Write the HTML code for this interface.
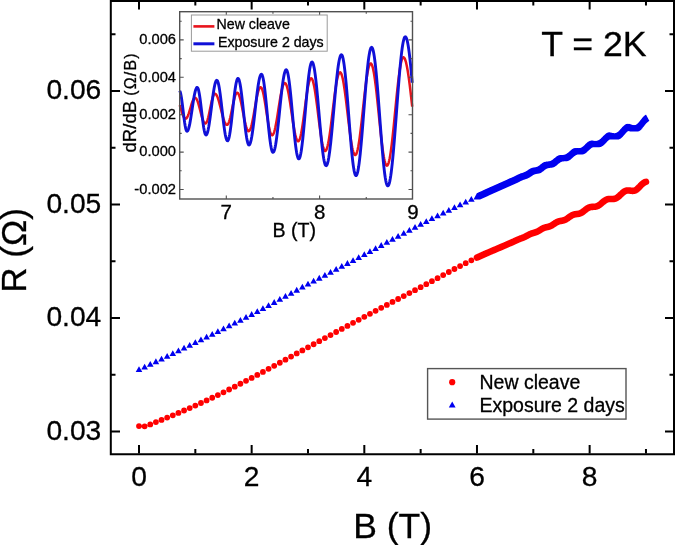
<!DOCTYPE html>
<html><head><meta charset="utf-8"><style>
html,body{margin:0;padding:0;background:#fff;}
body{width:675px;height:545px;overflow:hidden;}
svg{display:block;font-family:"Liberation Sans", sans-serif;filter:blur(0.35px);}
text{stroke:#000;stroke-width:0.3px;}
</style></head><body>
<svg width="675" height="545" viewBox="0 0 675 545">
<rect width="675" height="545" fill="#fff"/>
<!-- main data -->
<path d="M136.1 426.1a2.9 2.9 0 1 0 5.8 0a2.9 2.9 0 1 0 -5.8 0zM141.73 426.3a2.9 2.9 0 1 0 5.8 0a2.9 2.9 0 1 0 -5.8 0zM147.37 424.4a2.9 2.9 0 1 0 5.8 0a2.9 2.9 0 1 0 -5.8 0zM153 422.1a2.9 2.9 0 1 0 5.8 0a2.9 2.9 0 1 0 -5.8 0zM158.63 419.9a2.9 2.9 0 1 0 5.8 0a2.9 2.9 0 1 0 -5.8 0zM164.26 417.6a2.9 2.9 0 1 0 5.8 0a2.9 2.9 0 1 0 -5.8 0zM169.9 415.3a2.9 2.9 0 1 0 5.8 0a2.9 2.9 0 1 0 -5.8 0zM175.53 412.9a2.9 2.9 0 1 0 5.8 0a2.9 2.9 0 1 0 -5.8 0zM181.16 410.5a2.9 2.9 0 1 0 5.8 0a2.9 2.9 0 1 0 -5.8 0zM186.8 408.1a2.9 2.9 0 1 0 5.8 0a2.9 2.9 0 1 0 -5.8 0zM192.43 405.6a2.9 2.9 0 1 0 5.8 0a2.9 2.9 0 1 0 -5.8 0zM198.06 403.02a2.9 2.9 0 1 0 5.8 0a2.9 2.9 0 1 0 -5.8 0zM203.7 400.4a2.9 2.9 0 1 0 5.8 0a2.9 2.9 0 1 0 -5.8 0zM209.33 397.74a2.9 2.9 0 1 0 5.8 0a2.9 2.9 0 1 0 -5.8 0zM214.96 395.04a2.9 2.9 0 1 0 5.8 0a2.9 2.9 0 1 0 -5.8 0zM220.59 392.3a2.9 2.9 0 1 0 5.8 0a2.9 2.9 0 1 0 -5.8 0zM226.23 389.51a2.9 2.9 0 1 0 5.8 0a2.9 2.9 0 1 0 -5.8 0zM231.86 386.66a2.9 2.9 0 1 0 5.8 0a2.9 2.9 0 1 0 -5.8 0zM237.49 383.77a2.9 2.9 0 1 0 5.8 0a2.9 2.9 0 1 0 -5.8 0zM243.13 380.85a2.9 2.9 0 1 0 5.8 0a2.9 2.9 0 1 0 -5.8 0zM248.76 377.9a2.9 2.9 0 1 0 5.8 0a2.9 2.9 0 1 0 -5.8 0zM254.39 374.92a2.9 2.9 0 1 0 5.8 0a2.9 2.9 0 1 0 -5.8 0zM260.03 371.91a2.9 2.9 0 1 0 5.8 0a2.9 2.9 0 1 0 -5.8 0zM265.66 368.87a2.9 2.9 0 1 0 5.8 0a2.9 2.9 0 1 0 -5.8 0zM271.29 365.8a2.9 2.9 0 1 0 5.8 0a2.9 2.9 0 1 0 -5.8 0zM276.93 362.72a2.9 2.9 0 1 0 5.8 0a2.9 2.9 0 1 0 -5.8 0zM282.56 359.63a2.9 2.9 0 1 0 5.8 0a2.9 2.9 0 1 0 -5.8 0zM288.19 356.54a2.9 2.9 0 1 0 5.8 0a2.9 2.9 0 1 0 -5.8 0zM293.82 353.45a2.9 2.9 0 1 0 5.8 0a2.9 2.9 0 1 0 -5.8 0zM299.46 350.37a2.9 2.9 0 1 0 5.8 0a2.9 2.9 0 1 0 -5.8 0zM305.09 347.3a2.9 2.9 0 1 0 5.8 0a2.9 2.9 0 1 0 -5.8 0zM310.72 344.24a2.9 2.9 0 1 0 5.8 0a2.9 2.9 0 1 0 -5.8 0zM316.36 341.18a2.9 2.9 0 1 0 5.8 0a2.9 2.9 0 1 0 -5.8 0zM321.99 338.11a2.9 2.9 0 1 0 5.8 0a2.9 2.9 0 1 0 -5.8 0zM327.62 335.05a2.9 2.9 0 1 0 5.8 0a2.9 2.9 0 1 0 -5.8 0zM333.25 331.99a2.9 2.9 0 1 0 5.8 0a2.9 2.9 0 1 0 -5.8 0zM338.89 328.93a2.9 2.9 0 1 0 5.8 0a2.9 2.9 0 1 0 -5.8 0zM344.52 325.88a2.9 2.9 0 1 0 5.8 0a2.9 2.9 0 1 0 -5.8 0zM350.15 322.84a2.9 2.9 0 1 0 5.8 0a2.9 2.9 0 1 0 -5.8 0zM355.79 319.81a2.9 2.9 0 1 0 5.8 0a2.9 2.9 0 1 0 -5.8 0zM361.42 316.8a2.9 2.9 0 1 0 5.8 0a2.9 2.9 0 1 0 -5.8 0zM367.05 313.8a2.9 2.9 0 1 0 5.8 0a2.9 2.9 0 1 0 -5.8 0zM372.69 310.82a2.9 2.9 0 1 0 5.8 0a2.9 2.9 0 1 0 -5.8 0zM378.32 307.85a2.9 2.9 0 1 0 5.8 0a2.9 2.9 0 1 0 -5.8 0zM383.95 304.9a2.9 2.9 0 1 0 5.8 0a2.9 2.9 0 1 0 -5.8 0zM389.59 301.94a2.9 2.9 0 1 0 5.8 0a2.9 2.9 0 1 0 -5.8 0zM395.22 299a2.9 2.9 0 1 0 5.8 0a2.9 2.9 0 1 0 -5.8 0zM400.85 296.05a2.9 2.9 0 1 0 5.8 0a2.9 2.9 0 1 0 -5.8 0zM406.48 293.11a2.9 2.9 0 1 0 5.8 0a2.9 2.9 0 1 0 -5.8 0zM412.12 290.16a2.9 2.9 0 1 0 5.8 0a2.9 2.9 0 1 0 -5.8 0zM417.75 287.2a2.9 2.9 0 1 0 5.8 0a2.9 2.9 0 1 0 -5.8 0zM423.38 284.21a2.9 2.9 0 1 0 5.8 0a2.9 2.9 0 1 0 -5.8 0zM429.02 281.18a2.9 2.9 0 1 0 5.8 0a2.9 2.9 0 1 0 -5.8 0zM434.65 278.13a2.9 2.9 0 1 0 5.8 0a2.9 2.9 0 1 0 -5.8 0zM440.28 275.07a2.9 2.9 0 1 0 5.8 0a2.9 2.9 0 1 0 -5.8 0zM445.92 272.02a2.9 2.9 0 1 0 5.8 0a2.9 2.9 0 1 0 -5.8 0zM451.55 269.01a2.9 2.9 0 1 0 5.8 0a2.9 2.9 0 1 0 -5.8 0zM457.18 266.04a2.9 2.9 0 1 0 5.8 0a2.9 2.9 0 1 0 -5.8 0zM462.81 263.14a2.9 2.9 0 1 0 5.8 0a2.9 2.9 0 1 0 -5.8 0zM468.45 260.32a2.9 2.9 0 1 0 5.8 0a2.9 2.9 0 1 0 -5.8 0z" fill="#f00"/>
<polyline points="476.98,257.6 477.26,257.47 477.54,257.33 477.82,257.2 478.11,257.07 478.39,256.94 478.67,256.81 478.95,256.68 479.23,256.55 479.51,256.42 479.8,256.29 480.08,256.16 480.36,256.03 480.64,255.9 480.92,255.77 481.2,255.65 481.49,255.52 481.77,255.39 482.05,255.27 482.33,255.14 482.61,255.01 482.89,254.89 483.18,254.76 483.46,254.63 483.74,254.51 484.02,254.38 484.3,254.26 484.58,254.14 484.87,254.01 485.15,253.89 485.43,253.76 485.71,253.64 485.99,253.52 486.27,253.39 486.56,253.27 486.84,253.15 487.12,253.02 487.4,252.9 487.68,252.78 487.96,252.66 488.25,252.54 488.53,252.41 488.81,252.29 489.09,252.17 489.37,252.05 489.65,251.93 489.94,251.81 490.22,251.69 490.5,251.57 490.78,251.45 491.06,251.33 491.34,251.2 491.63,251.08 491.91,250.96 492.19,250.84 492.47,250.72 492.75,250.6 493.03,250.48 493.32,250.36 493.6,250.24 493.88,250.12 494.16,250 494.44,249.88 494.72,249.76 495.01,249.65 495.29,249.53 495.57,249.41 495.85,249.29 496.13,249.17 496.41,249.05 496.7,248.93 496.98,248.81 497.26,248.69 497.54,248.57 497.82,248.45 498.1,248.33 498.39,248.21 498.67,248.09 498.95,247.97 499.23,247.85 499.51,247.73 499.79,247.61 500.08,247.49 500.36,247.37 500.64,247.25 500.92,247.13 501.2,247.01 501.48,246.88 501.77,246.76 502.05,246.64 502.33,246.52 502.61,246.4 502.89,246.28 503.17,246.16 503.46,246.03 503.74,245.91 504.02,245.79 504.3,245.67 504.58,245.55 504.86,245.42 505.14,245.3 505.43,245.18 505.71,245.05 505.99,244.93 506.27,244.81 506.55,244.68 506.83,244.56 507.12,244.44 507.4,244.31 507.68,244.19 507.96,244.07 508.24,243.95 508.52,243.82 508.81,243.7 509.09,243.58 509.37,243.46 509.65,243.34 509.93,243.22 510.21,243.1 510.5,242.97 510.78,242.85 511.06,242.73 511.34,242.61 511.62,242.49 511.9,242.37 512.19,242.25 512.47,242.12 512.75,242 513.03,241.88 513.31,241.75 513.59,241.62 513.88,241.5 514.16,241.37 514.44,241.24 514.72,241.11 515,240.98 515.28,240.85 515.57,240.72 515.85,240.59 516.13,240.45 516.41,240.32 516.69,240.19 516.97,240.06 517.26,239.94 517.54,239.81 517.82,239.68 518.1,239.56 518.38,239.44 518.66,239.32 518.95,239.2 519.23,239.09 519.51,238.98 519.79,238.87 520.07,238.76 520.35,238.65 520.64,238.55 520.92,238.44 521.2,238.34 521.48,238.24 521.76,238.14 522.04,238.03 522.33,237.93 522.61,237.82 522.89,237.72 523.17,237.6 523.45,237.49 523.73,237.37 524.02,237.25 524.3,237.12 524.58,236.99 524.86,236.85 525.14,236.71 525.42,236.57 525.71,236.42 525.99,236.27 526.27,236.12 526.55,235.97 526.83,235.82 527.11,235.66 527.4,235.51 527.68,235.35 527.96,235.2 528.24,235.05 528.52,234.9 528.8,234.76 529.09,234.61 529.37,234.47 529.65,234.34 529.93,234.21 530.21,234.08 530.49,233.96 530.78,233.84 531.06,233.73 531.34,233.62 531.62,233.51 531.9,233.42 532.18,233.32 532.47,233.23 532.75,233.14 533.03,233.06 533.31,232.98 533.59,232.9 533.87,232.82 534.15,232.74 534.44,232.66 534.72,232.58 535,232.49 535.28,232.41 535.56,232.32 535.84,232.22 536.13,232.12 536.41,232.01 536.69,231.89 536.97,231.77 537.25,231.64 537.53,231.5 537.82,231.35 538.1,231.2 538.38,231.04 538.66,230.88 538.94,230.71 539.22,230.54 539.51,230.37 539.79,230.19 540.07,230.01 540.35,229.84 540.63,229.66 540.91,229.49 541.2,229.31 541.48,229.15 541.76,228.98 542.04,228.82 542.32,228.67 542.6,228.53 542.89,228.39 543.17,228.26 543.45,228.13 543.73,228.01 544.01,227.9 544.29,227.8 544.58,227.71 544.86,227.62 545.14,227.53 545.42,227.45 545.7,227.38 545.98,227.31 546.27,227.25 546.55,227.18 546.83,227.12 547.11,227.06 547.39,227 547.67,226.94 547.96,226.87 548.24,226.8 548.52,226.73 548.8,226.65 549.08,226.57 549.36,226.47 549.65,226.38 549.93,226.27 550.21,226.16 550.49,226.04 550.77,225.91 551.05,225.77 551.34,225.62 551.62,225.47 551.9,225.31 552.18,225.14 552.46,224.97 552.74,224.79 553.03,224.6 553.31,224.42 553.59,224.22 553.87,224.03 554.15,223.84 554.43,223.64 554.72,223.45 555,223.26 555.28,223.07 555.56,222.89 555.84,222.72 556.12,222.55 556.41,222.39 556.69,222.23 556.97,222.08 557.25,221.95 557.53,221.82 557.81,221.71 558.1,221.6 558.38,221.5 558.66,221.41 558.94,221.33 559.22,221.25 559.5,221.19 559.79,221.13 560.07,221.07 560.35,221.02 560.63,220.97 560.91,220.92 561.19,220.87 561.47,220.83 561.76,220.78 562.04,220.73 562.32,220.67 562.6,220.62 562.88,220.55 563.16,220.48 563.45,220.4 563.73,220.32 564.01,220.23 564.29,220.12 564.57,220.01 564.85,219.9 565.14,219.77 565.42,219.63 565.7,219.48 565.98,219.32 566.26,219.16 566.54,218.99 566.83,218.81 567.11,218.62 567.39,218.43 567.67,218.24 567.95,218.04 568.23,217.83 568.52,217.63 568.8,217.42 569.08,217.22 569.36,217.01 569.64,216.81 569.92,216.61 570.21,216.42 570.49,216.23 570.77,216.04 571.05,215.87 571.33,215.69 571.61,215.53 571.9,215.38 572.18,215.23 572.46,215.1 572.74,214.96 573.02,214.85 573.3,214.74 573.59,214.65 573.87,214.56 574.15,214.48 574.43,214.4 574.71,214.34 574.99,214.28 575.28,214.23 575.56,214.19 575.84,214.15 576.12,214.11 576.4,214.08 576.68,214.05 576.97,214.01 577.25,213.98 577.53,213.95 577.81,213.91 578.09,213.87 578.37,213.82 578.66,213.77 578.94,213.71 579.22,213.64 579.5,213.56 579.78,213.48 580.06,213.38 580.35,213.27 580.63,213.15 580.91,213.02 581.19,212.88 581.47,212.73 581.75,212.56 582.04,212.39 582.32,212.21 582.6,212.01 582.88,211.81 583.16,211.61 583.44,211.39 583.73,211.17 584.01,210.95 584.29,210.72 584.57,210.5 584.85,210.27 585.13,210.04 585.42,209.81 585.7,209.59 585.98,209.37 586.26,209.16 586.54,208.96 586.82,208.75 587.11,208.56 587.39,208.38 587.67,208.21 587.95,208.05 588.23,207.89 588.51,207.75 588.8,207.62 589.08,207.51 589.36,207.4 589.64,207.3 589.92,207.22 590.2,207.14 590.48,207.08 590.77,207.03 591.05,206.98 591.33,206.94 591.61,206.91 591.89,206.89 592.17,206.87 592.46,206.85 592.74,206.84 593.02,206.83 593.3,206.82 593.58,206.81 593.86,206.79 594.15,206.78 594.43,206.76 594.71,206.73 594.99,206.7 595.27,206.66 595.55,206.62 595.84,206.57 596.12,206.51 596.4,206.43 596.68,206.35 596.96,206.25 597.24,206.15 597.53,206.03 597.81,205.9 598.09,205.76 598.37,205.6 598.65,205.45 598.93,205.27 599.22,205.09 599.5,204.89 599.78,204.69 600.06,204.48 600.34,204.26 600.62,204.03 600.91,203.8 601.19,203.56 601.47,203.32 601.75,203.08 602.03,202.84 602.31,202.6 602.6,202.35 602.88,202.11 603.16,201.87 603.44,201.64 603.72,201.41 604,201.19 604.29,200.98 604.57,200.77 604.85,200.58 605.13,200.39 605.41,200.22 605.69,200.05 605.98,199.89 606.26,199.75 606.54,199.62 606.82,199.51 607.1,199.4 607.38,199.3 607.67,199.22 607.95,199.15 608.23,199.1 608.51,199.05 608.79,199.01 609.07,198.98 609.36,198.96 609.64,198.94 609.92,198.94 610.2,198.94 610.48,198.94 610.76,198.94 611.05,198.95 611.33,198.96 611.61,198.97 611.89,198.98 612.17,198.99 612.45,198.99 612.74,198.98 613.02,198.97 613.3,198.96 613.58,198.94 613.86,198.9 614.14,198.86 614.43,198.8 614.71,198.74 614.99,198.66 615.27,198.57 615.55,198.46 615.83,198.35 616.12,198.22 616.4,198.08 616.68,197.92 616.96,197.75 617.24,197.57 617.52,197.38 617.8,197.17 618.09,196.96 618.37,196.73 618.65,196.49 618.93,196.25 619.21,196 619.49,195.74 619.78,195.48 620.06,195.21 620.34,194.94 620.62,194.67 620.9,194.4 621.18,194.13 621.47,193.87 621.75,193.6 622.03,193.34 622.31,193.09 622.59,192.85 622.87,192.61 623.16,192.38 623.44,192.16 623.72,191.95 624,191.76 624.28,191.58 624.56,191.4 624.85,191.25 625.13,191.11 625.41,190.98 625.69,190.87 625.97,190.76 626.25,190.67 626.54,190.6 626.82,190.54 627.1,190.5 627.38,190.46 627.66,190.44 627.94,190.43 628.23,190.43 628.51,190.43 628.79,190.45 629.07,190.47 629.35,190.5 629.63,190.53 629.92,190.57 630.2,190.61 630.48,190.65 630.76,190.69 631.04,190.73 631.32,190.76 631.61,190.8 631.89,190.82 632.17,190.84 632.45,190.85 632.73,190.85 633.01,190.85 633.3,190.83 633.58,190.8 633.86,190.76 634.14,190.71 634.42,190.64 634.7,190.56 634.99,190.46 635.27,190.35 635.55,190.23 635.83,190.08 636.11,189.89 636.39,189.69 636.68,189.48 636.96,189.26 637.24,189.02 637.52,188.77 637.8,188.51 638.08,188.24 638.37,187.97 638.65,187.68 638.93,187.39 639.21,187.1 639.49,186.8 639.77,186.5 640.06,186.21 640.34,185.91 640.62,185.61 640.9,185.32 641.18,185.04 641.46,184.76 641.75,184.49 642.03,184.22 642.31,183.97 642.59,183.72 642.87,183.49 643.15,183.27 643.44,183.06 643.72,182.86 644,182.68 644.28,182.52 644.56,182.36 644.84,182.23 645.13,182.1 645.41,181.99 645.69,181.91 645.97,181.83" fill="none" stroke="#f00" stroke-width="6.6" stroke-linecap="round" stroke-linejoin="round"/>
<path d="M139 366.3l3.3 5.8h-6.6zM144.63 363.67l3.3 5.8h-6.6zM150.27 361.03l3.3 5.8h-6.6zM155.9 358.37l3.3 5.8h-6.6zM161.53 355.69l3.3 5.8h-6.6zM167.16 353l3.3 5.8h-6.6zM172.8 350.29l3.3 5.8h-6.6zM178.43 347.57l3.3 5.8h-6.6zM184.06 344.82l3.3 5.8h-6.6zM189.7 342.07l3.3 5.8h-6.6zM195.33 339.3l3.3 5.8h-6.6zM200.96 336.53l3.3 5.8h-6.6zM206.6 333.75l3.3 5.8h-6.6zM212.23 330.97l3.3 5.8h-6.6zM217.86 328.18l3.3 5.8h-6.6zM223.5 325.38l3.3 5.8h-6.6zM229.13 322.57l3.3 5.8h-6.6zM234.76 319.74l3.3 5.8h-6.6zM240.39 316.88l3.3 5.8h-6.6zM246.03 314.01l3.3 5.8h-6.6zM251.66 311.1l3.3 5.8h-6.6zM257.29 308.15l3.3 5.8h-6.6zM262.93 305.17l3.3 5.8h-6.6zM268.56 302.15l3.3 5.8h-6.6zM274.19 299.1l3.3 5.8h-6.6zM279.82 296.04l3.3 5.8h-6.6zM285.46 292.97l3.3 5.8h-6.6zM291.09 289.91l3.3 5.8h-6.6zM296.72 286.85l3.3 5.8h-6.6zM302.36 283.81l3.3 5.8h-6.6zM307.99 280.8l3.3 5.8h-6.6zM313.62 277.81l3.3 5.8h-6.6zM319.26 274.85l3.3 5.8h-6.6zM324.89 271.89l3.3 5.8h-6.6zM330.52 268.94l3.3 5.8h-6.6zM336.15 265.99l3.3 5.8h-6.6zM341.79 263.05l3.3 5.8h-6.6zM347.42 260.1l3.3 5.8h-6.6zM353.05 257.15l3.3 5.8h-6.6zM358.69 254.18l3.3 5.8h-6.6zM364.32 251.2l3.3 5.8h-6.6zM369.95 248.19l3.3 5.8h-6.6zM375.59 245.16l3.3 5.8h-6.6zM381.22 242.1l3.3 5.8h-6.6zM386.85 239.03l3.3 5.8h-6.6zM392.49 235.97l3.3 5.8h-6.6zM398.12 232.91l3.3 5.8h-6.6zM403.75 229.88l3.3 5.8h-6.6zM409.38 226.88l3.3 5.8h-6.6zM415.02 223.91l3.3 5.8h-6.6zM420.65 221l3.3 5.8h-6.6zM426.28 218.13l3.3 5.8h-6.6zM431.92 215.28l3.3 5.8h-6.6zM437.55 212.46l3.3 5.8h-6.6zM443.18 209.66l3.3 5.8h-6.6zM448.81 206.89l3.3 5.8h-6.6zM454.45 204.14l3.3 5.8h-6.6zM460.08 201.42l3.3 5.8h-6.6zM465.71 198.72l3.3 5.8h-6.6zM471.35 196.05l3.3 5.8h-6.6z" fill="#0000f0"/>
<path d="M476.98 193.1l3.45 6.4h-6.9zM477.26 192.97l3.45 6.4h-6.9zM477.54 192.84l3.45 6.4h-6.9zM477.82 192.71l3.45 6.4h-6.9zM478.11 192.57l3.45 6.4h-6.9zM478.39 192.44l3.45 6.4h-6.9zM478.67 192.31l3.45 6.4h-6.9zM478.95 192.18l3.45 6.4h-6.9zM479.23 192.05l3.45 6.4h-6.9zM479.51 191.92l3.45 6.4h-6.9zM479.8 191.79l3.45 6.4h-6.9zM480.08 191.66l3.45 6.4h-6.9zM480.36 191.53l3.45 6.4h-6.9zM480.64 191.4l3.45 6.4h-6.9zM480.92 191.27l3.45 6.4h-6.9zM481.2 191.14l3.45 6.4h-6.9zM481.49 191.02l3.45 6.4h-6.9zM481.77 190.89l3.45 6.4h-6.9zM482.05 190.76l3.45 6.4h-6.9zM482.33 190.63l3.45 6.4h-6.9zM482.61 190.5l3.45 6.4h-6.9zM482.89 190.37l3.45 6.4h-6.9zM483.18 190.24l3.45 6.4h-6.9zM483.46 190.12l3.45 6.4h-6.9zM483.74 189.99l3.45 6.4h-6.9zM484.02 189.86l3.45 6.4h-6.9zM484.3 189.73l3.45 6.4h-6.9zM484.58 189.6l3.45 6.4h-6.9zM484.87 189.48l3.45 6.4h-6.9zM485.15 189.35l3.45 6.4h-6.9zM485.43 189.22l3.45 6.4h-6.9zM485.71 189.09l3.45 6.4h-6.9zM485.99 188.97l3.45 6.4h-6.9zM486.27 188.84l3.45 6.4h-6.9zM486.56 188.71l3.45 6.4h-6.9zM486.84 188.59l3.45 6.4h-6.9zM487.12 188.46l3.45 6.4h-6.9zM487.4 188.33l3.45 6.4h-6.9zM487.68 188.21l3.45 6.4h-6.9zM487.96 188.08l3.45 6.4h-6.9zM488.25 187.95l3.45 6.4h-6.9zM488.53 187.83l3.45 6.4h-6.9zM488.81 187.7l3.45 6.4h-6.9zM489.09 187.57l3.45 6.4h-6.9zM489.37 187.45l3.45 6.4h-6.9zM489.65 187.32l3.45 6.4h-6.9zM489.94 187.2l3.45 6.4h-6.9zM490.22 187.07l3.45 6.4h-6.9zM490.5 186.94l3.45 6.4h-6.9zM490.78 186.82l3.45 6.4h-6.9zM491.06 186.69l3.45 6.4h-6.9zM491.34 186.57l3.45 6.4h-6.9zM491.63 186.44l3.45 6.4h-6.9zM491.91 186.31l3.45 6.4h-6.9zM492.19 186.19l3.45 6.4h-6.9zM492.47 186.06l3.45 6.4h-6.9zM492.75 185.94l3.45 6.4h-6.9zM493.03 185.81l3.45 6.4h-6.9zM493.32 185.69l3.45 6.4h-6.9zM493.6 185.56l3.45 6.4h-6.9zM493.88 185.44l3.45 6.4h-6.9zM494.16 185.31l3.45 6.4h-6.9zM494.44 185.18l3.45 6.4h-6.9zM494.72 185.06l3.45 6.4h-6.9zM495.01 184.93l3.45 6.4h-6.9zM495.29 184.81l3.45 6.4h-6.9zM495.57 184.68l3.45 6.4h-6.9zM495.85 184.56l3.45 6.4h-6.9zM496.13 184.43l3.45 6.4h-6.9zM496.41 184.31l3.45 6.4h-6.9zM496.7 184.18l3.45 6.4h-6.9zM496.98 184.06l3.45 6.4h-6.9zM497.26 183.93l3.45 6.4h-6.9zM497.54 183.8l3.45 6.4h-6.9zM497.82 183.68l3.45 6.4h-6.9zM498.1 183.55l3.45 6.4h-6.9zM498.39 183.43l3.45 6.4h-6.9zM498.67 183.3l3.45 6.4h-6.9zM498.95 183.18l3.45 6.4h-6.9zM499.23 183.05l3.45 6.4h-6.9zM499.51 182.93l3.45 6.4h-6.9zM499.79 182.8l3.45 6.4h-6.9zM500.08 182.67l3.45 6.4h-6.9zM500.36 182.55l3.45 6.4h-6.9zM500.64 182.42l3.45 6.4h-6.9zM500.92 182.3l3.45 6.4h-6.9zM501.2 182.17l3.45 6.4h-6.9zM501.48 182.04l3.45 6.4h-6.9zM501.77 181.92l3.45 6.4h-6.9zM502.05 181.79l3.45 6.4h-6.9zM502.33 181.67l3.45 6.4h-6.9zM502.61 181.54l3.45 6.4h-6.9zM502.89 181.41l3.45 6.4h-6.9zM503.17 181.29l3.45 6.4h-6.9zM503.46 181.16l3.45 6.4h-6.9zM503.74 181.03l3.45 6.4h-6.9zM504.02 180.91l3.45 6.4h-6.9zM504.3 180.78l3.45 6.4h-6.9zM504.58 180.65l3.45 6.4h-6.9zM504.86 180.53l3.45 6.4h-6.9zM505.14 180.4l3.45 6.4h-6.9zM505.43 180.27l3.45 6.4h-6.9zM505.71 180.15l3.45 6.4h-6.9zM505.99 180.02l3.45 6.4h-6.9zM506.27 179.89l3.45 6.4h-6.9zM506.55 179.76l3.45 6.4h-6.9zM506.83 179.64l3.45 6.4h-6.9zM507.12 179.51l3.45 6.4h-6.9zM507.4 179.38l3.45 6.4h-6.9zM507.68 179.25l3.45 6.4h-6.9zM507.96 179.12l3.45 6.4h-6.9zM508.24 179l3.45 6.4h-6.9zM508.52 178.87l3.45 6.4h-6.9zM508.81 178.74l3.45 6.4h-6.9zM509.09 178.62l3.45 6.4h-6.9zM509.37 178.49l3.45 6.4h-6.9zM509.65 178.37l3.45 6.4h-6.9zM509.93 178.24l3.45 6.4h-6.9zM510.21 178.12l3.45 6.4h-6.9zM510.5 178l3.45 6.4h-6.9zM510.78 177.88l3.45 6.4h-6.9zM511.06 177.75l3.45 6.4h-6.9zM511.34 177.63l3.45 6.4h-6.9zM511.62 177.51l3.45 6.4h-6.9zM511.9 177.39l3.45 6.4h-6.9zM512.19 177.27l3.45 6.4h-6.9zM512.47 177.15l3.45 6.4h-6.9zM512.75 177.03l3.45 6.4h-6.9zM513.03 176.9l3.45 6.4h-6.9zM513.31 176.78l3.45 6.4h-6.9zM513.59 176.65l3.45 6.4h-6.9zM513.88 176.52l3.45 6.4h-6.9zM514.16 176.39l3.45 6.4h-6.9zM514.44 176.25l3.45 6.4h-6.9zM514.72 176.12l3.45 6.4h-6.9zM515 175.98l3.45 6.4h-6.9zM515.28 175.84l3.45 6.4h-6.9zM515.57 175.7l3.45 6.4h-6.9zM515.85 175.55l3.45 6.4h-6.9zM516.13 175.41l3.45 6.4h-6.9zM516.41 175.26l3.45 6.4h-6.9zM516.69 175.11l3.45 6.4h-6.9zM516.97 174.97l3.45 6.4h-6.9zM517.26 174.82l3.45 6.4h-6.9zM517.54 174.68l3.45 6.4h-6.9zM517.82 174.54l3.45 6.4h-6.9zM518.1 174.4l3.45 6.4h-6.9zM518.38 174.26l3.45 6.4h-6.9zM518.66 174.13l3.45 6.4h-6.9zM518.95 174.01l3.45 6.4h-6.9zM519.23 173.88l3.45 6.4h-6.9zM519.51 173.77l3.45 6.4h-6.9zM519.79 173.66l3.45 6.4h-6.9zM520.07 173.55l3.45 6.4h-6.9zM520.35 173.45l3.45 6.4h-6.9zM520.64 173.35l3.45 6.4h-6.9zM520.92 173.26l3.45 6.4h-6.9zM521.2 173.17l3.45 6.4h-6.9zM521.48 173.08l3.45 6.4h-6.9zM521.76 172.99l3.45 6.4h-6.9zM522.04 172.9l3.45 6.4h-6.9zM522.33 172.81l3.45 6.4h-6.9zM522.61 172.72l3.45 6.4h-6.9zM522.89 172.63l3.45 6.4h-6.9zM523.17 172.54l3.45 6.4h-6.9zM523.45 172.44l3.45 6.4h-6.9zM523.73 172.33l3.45 6.4h-6.9zM524.02 172.22l3.45 6.4h-6.9zM524.3 172.11l3.45 6.4h-6.9zM524.58 171.98l3.45 6.4h-6.9zM524.86 171.86l3.45 6.4h-6.9zM525.14 171.72l3.45 6.4h-6.9zM525.42 171.58l3.45 6.4h-6.9zM525.71 171.43l3.45 6.4h-6.9zM525.99 171.27l3.45 6.4h-6.9zM526.27 171.1l3.45 6.4h-6.9zM526.55 170.93l3.45 6.4h-6.9zM526.83 170.75l3.45 6.4h-6.9zM527.11 170.57l3.45 6.4h-6.9zM527.4 170.38l3.45 6.4h-6.9zM527.68 170.2l3.45 6.4h-6.9zM527.96 170l3.45 6.4h-6.9zM528.24 169.81l3.45 6.4h-6.9zM528.52 169.62l3.45 6.4h-6.9zM528.8 169.43l3.45 6.4h-6.9zM529.09 169.25l3.45 6.4h-6.9zM529.37 169.07l3.45 6.4h-6.9zM529.65 168.89l3.45 6.4h-6.9zM529.93 168.72l3.45 6.4h-6.9zM530.21 168.56l3.45 6.4h-6.9zM530.49 168.42l3.45 6.4h-6.9zM530.78 168.28l3.45 6.4h-6.9zM531.06 168.15l3.45 6.4h-6.9zM531.34 168.03l3.45 6.4h-6.9zM531.62 167.92l3.45 6.4h-6.9zM531.9 167.83l3.45 6.4h-6.9zM532.18 167.75l3.45 6.4h-6.9zM532.47 167.67l3.45 6.4h-6.9zM532.75 167.61l3.45 6.4h-6.9zM533.03 167.55l3.45 6.4h-6.9zM533.31 167.5l3.45 6.4h-6.9zM533.59 167.45l3.45 6.4h-6.9zM533.87 167.41l3.45 6.4h-6.9zM534.15 167.38l3.45 6.4h-6.9zM534.44 167.34l3.45 6.4h-6.9zM534.72 167.3l3.45 6.4h-6.9zM535 167.26l3.45 6.4h-6.9zM535.28 167.22l3.45 6.4h-6.9zM535.56 167.16l3.45 6.4h-6.9zM535.84 167.1l3.45 6.4h-6.9zM536.13 167.03l3.45 6.4h-6.9zM536.41 166.95l3.45 6.4h-6.9zM536.69 166.85l3.45 6.4h-6.9zM536.97 166.75l3.45 6.4h-6.9zM537.25 166.63l3.45 6.4h-6.9zM537.53 166.49l3.45 6.4h-6.9zM537.82 166.34l3.45 6.4h-6.9zM538.1 166.18l3.45 6.4h-6.9zM538.38 166.01l3.45 6.4h-6.9zM538.66 165.82l3.45 6.4h-6.9zM538.94 165.63l3.45 6.4h-6.9zM539.22 165.42l3.45 6.4h-6.9zM539.51 165.2l3.45 6.4h-6.9zM539.79 164.98l3.45 6.4h-6.9zM540.07 164.76l3.45 6.4h-6.9zM540.35 164.53l3.45 6.4h-6.9zM540.63 164.3l3.45 6.4h-6.9zM540.91 164.08l3.45 6.4h-6.9zM541.2 163.85l3.45 6.4h-6.9zM541.48 163.63l3.45 6.4h-6.9zM541.76 163.42l3.45 6.4h-6.9zM542.04 163.21l3.45 6.4h-6.9zM542.32 163.02l3.45 6.4h-6.9zM542.6 162.83l3.45 6.4h-6.9zM542.89 162.66l3.45 6.4h-6.9zM543.17 162.5l3.45 6.4h-6.9zM543.45 162.35l3.45 6.4h-6.9zM543.73 162.21l3.45 6.4h-6.9zM544.01 162.09l3.45 6.4h-6.9zM544.29 161.99l3.45 6.4h-6.9zM544.58 161.89l3.45 6.4h-6.9zM544.86 161.81l3.45 6.4h-6.9zM545.14 161.74l3.45 6.4h-6.9zM545.42 161.68l3.45 6.4h-6.9zM545.7 161.63l3.45 6.4h-6.9zM545.98 161.59l3.45 6.4h-6.9zM546.27 161.55l3.45 6.4h-6.9zM546.55 161.52l3.45 6.4h-6.9zM546.83 161.49l3.45 6.4h-6.9zM547.11 161.47l3.45 6.4h-6.9zM547.39 161.44l3.45 6.4h-6.9zM547.67 161.42l3.45 6.4h-6.9zM547.96 161.39l3.45 6.4h-6.9zM548.24 161.35l3.45 6.4h-6.9zM548.52 161.31l3.45 6.4h-6.9zM548.8 161.27l3.45 6.4h-6.9zM549.08 161.21l3.45 6.4h-6.9zM549.36 161.15l3.45 6.4h-6.9zM549.65 161.08l3.45 6.4h-6.9zM549.93 160.99l3.45 6.4h-6.9zM550.21 160.9l3.45 6.4h-6.9zM550.49 160.79l3.45 6.4h-6.9zM550.77 160.67l3.45 6.4h-6.9zM551.05 160.53l3.45 6.4h-6.9zM551.34 160.39l3.45 6.4h-6.9zM551.62 160.23l3.45 6.4h-6.9zM551.9 160.06l3.45 6.4h-6.9zM552.18 159.88l3.45 6.4h-6.9zM552.46 159.68l3.45 6.4h-6.9zM552.74 159.48l3.45 6.4h-6.9zM553.03 159.27l3.45 6.4h-6.9zM553.31 159.05l3.45 6.4h-6.9zM553.59 158.82l3.45 6.4h-6.9zM553.87 158.59l3.45 6.4h-6.9zM554.15 158.36l3.45 6.4h-6.9zM554.43 158.12l3.45 6.4h-6.9zM554.72 157.88l3.45 6.4h-6.9zM555 157.64l3.45 6.4h-6.9zM555.28 157.4l3.45 6.4h-6.9zM555.56 157.17l3.45 6.4h-6.9zM555.84 156.94l3.45 6.4h-6.9zM556.12 156.73l3.45 6.4h-6.9zM556.41 156.52l3.45 6.4h-6.9zM556.69 156.32l3.45 6.4h-6.9zM556.97 156.13l3.45 6.4h-6.9zM557.25 155.96l3.45 6.4h-6.9zM557.53 155.8l3.45 6.4h-6.9zM557.81 155.66l3.45 6.4h-6.9zM558.1 155.53l3.45 6.4h-6.9zM558.38 155.41l3.45 6.4h-6.9zM558.66 155.31l3.45 6.4h-6.9zM558.94 155.22l3.45 6.4h-6.9zM559.22 155.15l3.45 6.4h-6.9zM559.5 155.09l3.45 6.4h-6.9zM559.79 155.05l3.45 6.4h-6.9zM560.07 155.01l3.45 6.4h-6.9zM560.35 154.98l3.45 6.4h-6.9zM560.63 154.96l3.45 6.4h-6.9zM560.91 154.95l3.45 6.4h-6.9zM561.19 154.94l3.45 6.4h-6.9zM561.47 154.93l3.45 6.4h-6.9zM561.76 154.93l3.45 6.4h-6.9zM562.04 154.92l3.45 6.4h-6.9zM562.32 154.91l3.45 6.4h-6.9zM562.6 154.9l3.45 6.4h-6.9zM562.88 154.88l3.45 6.4h-6.9zM563.16 154.85l3.45 6.4h-6.9zM563.45 154.83l3.45 6.4h-6.9zM563.73 154.78l3.45 6.4h-6.9zM564.01 154.73l3.45 6.4h-6.9zM564.29 154.67l3.45 6.4h-6.9zM564.57 154.59l3.45 6.4h-6.9zM564.85 154.51l3.45 6.4h-6.9zM565.14 154.41l3.45 6.4h-6.9zM565.42 154.29l3.45 6.4h-6.9zM565.7 154.16l3.45 6.4h-6.9zM565.98 154.02l3.45 6.4h-6.9zM566.26 153.86l3.45 6.4h-6.9zM566.54 153.7l3.45 6.4h-6.9zM566.83 153.51l3.45 6.4h-6.9zM567.11 153.32l3.45 6.4h-6.9zM567.39 153.11l3.45 6.4h-6.9zM567.67 152.89l3.45 6.4h-6.9zM567.95 152.67l3.45 6.4h-6.9zM568.23 152.44l3.45 6.4h-6.9zM568.52 152.19l3.45 6.4h-6.9zM568.8 151.95l3.45 6.4h-6.9zM569.08 151.7l3.45 6.4h-6.9zM569.36 151.44l3.45 6.4h-6.9zM569.64 151.18l3.45 6.4h-6.9zM569.92 150.93l3.45 6.4h-6.9zM570.21 150.68l3.45 6.4h-6.9zM570.49 150.43l3.45 6.4h-6.9zM570.77 150.19l3.45 6.4h-6.9zM571.05 149.95l3.45 6.4h-6.9zM571.33 149.72l3.45 6.4h-6.9zM571.61 149.5l3.45 6.4h-6.9zM571.9 149.3l3.45 6.4h-6.9zM572.18 149.11l3.45 6.4h-6.9zM572.46 148.93l3.45 6.4h-6.9zM572.74 148.76l3.45 6.4h-6.9zM573.02 148.62l3.45 6.4h-6.9zM573.3 148.49l3.45 6.4h-6.9zM573.59 148.37l3.45 6.4h-6.9zM573.87 148.27l3.45 6.4h-6.9zM574.15 148.19l3.45 6.4h-6.9zM574.43 148.11l3.45 6.4h-6.9zM574.71 148.06l3.45 6.4h-6.9zM574.99 148.02l3.45 6.4h-6.9zM575.28 147.99l3.45 6.4h-6.9zM575.56 147.98l3.45 6.4h-6.9zM575.84 147.97l3.45 6.4h-6.9zM576.12 147.97l3.45 6.4h-6.9zM576.4 147.98l3.45 6.4h-6.9zM576.68 147.99l3.45 6.4h-6.9zM576.97 148.01l3.45 6.4h-6.9zM577.25 148.03l3.45 6.4h-6.9zM577.53 148.05l3.45 6.4h-6.9zM577.81 148.06l3.45 6.4h-6.9zM578.09 148.07l3.45 6.4h-6.9zM578.37 148.08l3.45 6.4h-6.9zM578.66 148.08l3.45 6.4h-6.9zM578.94 148.07l3.45 6.4h-6.9zM579.22 148.05l3.45 6.4h-6.9zM579.5 148.02l3.45 6.4h-6.9zM579.78 147.97l3.45 6.4h-6.9zM580.06 147.91l3.45 6.4h-6.9zM580.35 147.83l3.45 6.4h-6.9zM580.63 147.75l3.45 6.4h-6.9zM580.91 147.64l3.45 6.4h-6.9zM581.19 147.52l3.45 6.4h-6.9zM581.47 147.38l3.45 6.4h-6.9zM581.75 147.22l3.45 6.4h-6.9zM582.04 147.06l3.45 6.4h-6.9zM582.32 146.87l3.45 6.4h-6.9zM582.6 146.66l3.45 6.4h-6.9zM582.88 146.45l3.45 6.4h-6.9zM583.16 146.22l3.45 6.4h-6.9zM583.44 145.98l3.45 6.4h-6.9zM583.73 145.73l3.45 6.4h-6.9zM584.01 145.47l3.45 6.4h-6.9zM584.29 145.2l3.45 6.4h-6.9zM584.57 144.93l3.45 6.4h-6.9zM584.85 144.65l3.45 6.4h-6.9zM585.13 144.38l3.45 6.4h-6.9zM585.42 144.1l3.45 6.4h-6.9zM585.7 143.82l3.45 6.4h-6.9zM585.98 143.55l3.45 6.4h-6.9zM586.26 143.28l3.45 6.4h-6.9zM586.54 143.02l3.45 6.4h-6.9zM586.82 142.76l3.45 6.4h-6.9zM587.11 142.52l3.45 6.4h-6.9zM587.39 142.28l3.45 6.4h-6.9zM587.67 142.06l3.45 6.4h-6.9zM587.95 141.86l3.45 6.4h-6.9zM588.23 141.65l3.45 6.4h-6.9zM588.51 141.47l3.45 6.4h-6.9zM588.8 141.31l3.45 6.4h-6.9zM589.08 141.16l3.45 6.4h-6.9zM589.36 141.03l3.45 6.4h-6.9zM589.64 140.9l3.45 6.4h-6.9zM589.92 140.8l3.45 6.4h-6.9zM590.2 140.72l3.45 6.4h-6.9zM590.48 140.65l3.45 6.4h-6.9zM590.77 140.6l3.45 6.4h-6.9zM591.05 140.56l3.45 6.4h-6.9zM591.33 140.52l3.45 6.4h-6.9zM591.61 140.51l3.45 6.4h-6.9zM591.89 140.51l3.45 6.4h-6.9zM592.17 140.51l3.45 6.4h-6.9zM592.46 140.53l3.45 6.4h-6.9zM592.74 140.54l3.45 6.4h-6.9zM593.02 140.57l3.45 6.4h-6.9zM593.3 140.6l3.45 6.4h-6.9zM593.58 140.63l3.45 6.4h-6.9zM593.86 140.67l3.45 6.4h-6.9zM594.15 140.7l3.45 6.4h-6.9zM594.43 140.73l3.45 6.4h-6.9zM594.71 140.75l3.45 6.4h-6.9zM594.99 140.77l3.45 6.4h-6.9zM595.27 140.79l3.45 6.4h-6.9zM595.55 140.79l3.45 6.4h-6.9zM595.84 140.79l3.45 6.4h-6.9zM596.12 140.78l3.45 6.4h-6.9zM596.4 140.75l3.45 6.4h-6.9zM596.68 140.71l3.45 6.4h-6.9zM596.96 140.66l3.45 6.4h-6.9zM597.24 140.6l3.45 6.4h-6.9zM597.53 140.52l3.45 6.4h-6.9zM597.81 140.43l3.45 6.4h-6.9zM598.09 140.31l3.45 6.4h-6.9zM598.37 140.18l3.45 6.4h-6.9zM598.65 140.05l3.45 6.4h-6.9zM598.93 139.89l3.45 6.4h-6.9zM599.22 139.72l3.45 6.4h-6.9zM599.5 139.53l3.45 6.4h-6.9zM599.78 139.32l3.45 6.4h-6.9zM600.06 139.11l3.45 6.4h-6.9zM600.34 138.88l3.45 6.4h-6.9zM600.62 138.63l3.45 6.4h-6.9zM600.91 138.38l3.45 6.4h-6.9zM601.19 138.11l3.45 6.4h-6.9zM601.47 137.84l3.45 6.4h-6.9zM601.75 137.56l3.45 6.4h-6.9zM602.03 137.27l3.45 6.4h-6.9zM602.31 136.98l3.45 6.4h-6.9zM602.6 136.68l3.45 6.4h-6.9zM602.88 136.38l3.45 6.4h-6.9zM603.16 136.08l3.45 6.4h-6.9zM603.44 135.78l3.45 6.4h-6.9zM603.72 135.49l3.45 6.4h-6.9zM604 135.2l3.45 6.4h-6.9zM604.29 134.92l3.45 6.4h-6.9zM604.57 134.64l3.45 6.4h-6.9zM604.85 134.38l3.45 6.4h-6.9zM605.13 134.13l3.45 6.4h-6.9zM605.41 133.89l3.45 6.4h-6.9zM605.69 133.67l3.45 6.4h-6.9zM605.98 133.45l3.45 6.4h-6.9zM606.26 133.26l3.45 6.4h-6.9zM606.54 133.09l3.45 6.4h-6.9zM606.82 132.93l3.45 6.4h-6.9zM607.1 132.79l3.45 6.4h-6.9zM607.38 132.66l3.45 6.4h-6.9zM607.67 132.56l3.45 6.4h-6.9zM607.95 132.48l3.45 6.4h-6.9zM608.23 132.41l3.45 6.4h-6.9zM608.51 132.36l3.45 6.4h-6.9zM608.79 132.32l3.45 6.4h-6.9zM609.07 132.31l3.45 6.4h-6.9zM609.36 132.31l3.45 6.4h-6.9zM609.64 132.32l3.45 6.4h-6.9zM609.92 132.35l3.45 6.4h-6.9zM610.2 132.39l3.45 6.4h-6.9zM610.48 132.43l3.45 6.4h-6.9zM610.76 132.49l3.45 6.4h-6.9zM611.05 132.55l3.45 6.4h-6.9zM611.33 132.61l3.45 6.4h-6.9zM611.61 132.68l3.45 6.4h-6.9zM611.89 132.75l3.45 6.4h-6.9zM612.17 132.82l3.45 6.4h-6.9zM612.45 132.88l3.45 6.4h-6.9zM612.74 132.95l3.45 6.4h-6.9zM613.02 133l3.45 6.4h-6.9zM613.3 133.05l3.45 6.4h-6.9zM613.58 133.09l3.45 6.4h-6.9zM613.86 133.12l3.45 6.4h-6.9zM614.14 133.13l3.45 6.4h-6.9zM614.43 133.13l3.45 6.4h-6.9zM614.71 133.13l3.45 6.4h-6.9zM614.99 133.1l3.45 6.4h-6.9zM615.27 133.05l3.45 6.4h-6.9zM615.55 132.99l3.45 6.4h-6.9zM615.83 132.91l3.45 6.4h-6.9zM616.12 132.82l3.45 6.4h-6.9zM616.4 132.7l3.45 6.4h-6.9zM616.68 132.57l3.45 6.4h-6.9zM616.96 132.41l3.45 6.4h-6.9zM617.24 132.24l3.45 6.4h-6.9zM617.52 132.06l3.45 6.4h-6.9zM617.8 131.85l3.45 6.4h-6.9zM618.09 131.63l3.45 6.4h-6.9zM618.37 131.38l3.45 6.4h-6.9zM618.65 131.13l3.45 6.4h-6.9zM618.93 130.87l3.45 6.4h-6.9zM619.21 130.59l3.45 6.4h-6.9zM619.49 130.29l3.45 6.4h-6.9zM619.78 129.99l3.45 6.4h-6.9zM620.06 129.68l3.45 6.4h-6.9zM620.34 129.37l3.45 6.4h-6.9zM620.62 129.05l3.45 6.4h-6.9zM620.9 128.72l3.45 6.4h-6.9zM621.18 128.39l3.45 6.4h-6.9zM621.47 128.07l3.45 6.4h-6.9zM621.75 127.74l3.45 6.4h-6.9zM622.03 127.42l3.45 6.4h-6.9zM622.31 127.11l3.45 6.4h-6.9zM622.59 126.8l3.45 6.4h-6.9zM622.87 126.5l3.45 6.4h-6.9zM623.16 126.2l3.45 6.4h-6.9zM623.44 125.92l3.45 6.4h-6.9zM623.72 125.66l3.45 6.4h-6.9zM624 125.41l3.45 6.4h-6.9zM624.28 125.17l3.45 6.4h-6.9zM624.56 124.94l3.45 6.4h-6.9zM624.85 124.73l3.45 6.4h-6.9zM625.13 124.55l3.45 6.4h-6.9zM625.41 124.38l3.45 6.4h-6.9zM625.69 124.23l3.45 6.4h-6.9zM625.97 124.09l3.45 6.4h-6.9zM626.25 123.98l3.45 6.4h-6.9zM626.54 123.89l3.45 6.4h-6.9zM626.82 123.81l3.45 6.4h-6.9zM627.1 123.76l3.45 6.4h-6.9zM627.38 123.71l3.45 6.4h-6.9zM627.66 123.69l3.45 6.4h-6.9zM627.94 123.69l3.45 6.4h-6.9zM628.23 123.7l3.45 6.4h-6.9zM628.51 123.73l3.45 6.4h-6.9zM628.79 123.76l3.45 6.4h-6.9zM629.07 123.81l3.45 6.4h-6.9zM629.35 123.87l3.45 6.4h-6.9zM629.63 123.94l3.45 6.4h-6.9zM629.92 124.02l3.45 6.4h-6.9zM630.2 124.11l3.45 6.4h-6.9zM630.48 124.2l3.45 6.4h-6.9zM630.76 124.29l3.45 6.4h-6.9zM631.04 124.38l3.45 6.4h-6.9zM631.32 124.47l3.45 6.4h-6.9zM631.61 124.57l3.45 6.4h-6.9zM631.89 124.66l3.45 6.4h-6.9zM632.17 124.74l3.45 6.4h-6.9zM632.45 124.81l3.45 6.4h-6.9zM632.73 124.88l3.45 6.4h-6.9zM633.01 124.95l3.45 6.4h-6.9zM633.3 124.99l3.45 6.4h-6.9zM633.58 125.03l3.45 6.4h-6.9zM633.86 125.05l3.45 6.4h-6.9zM634.14 125.07l3.45 6.4h-6.9zM634.42 125.06l3.45 6.4h-6.9zM634.7 125.04l3.45 6.4h-6.9zM634.99 125l3.45 6.4h-6.9zM635.27 124.94l3.45 6.4h-6.9zM635.55 124.88l3.45 6.4h-6.9zM635.83 124.78l3.45 6.4h-6.9zM636.11 124.62l3.45 6.4h-6.9zM636.39 124.45l3.45 6.4h-6.9zM636.68 124.25l3.45 6.4h-6.9zM636.96 124.05l3.45 6.4h-6.9zM637.24 123.82l3.45 6.4h-6.9zM637.52 123.57l3.45 6.4h-6.9zM637.8 123.31l3.45 6.4h-6.9zM638.08 123.02l3.45 6.4h-6.9zM638.37 122.74l3.45 6.4h-6.9zM638.65 122.43l3.45 6.4h-6.9zM638.93 122.1l3.45 6.4h-6.9zM639.21 121.77l3.45 6.4h-6.9zM639.49 121.43l3.45 6.4h-6.9zM639.77 121.08l3.45 6.4h-6.9zM640.06 120.72l3.45 6.4h-6.9zM640.34 120.36l3.45 6.4h-6.9zM640.62 120l3.45 6.4h-6.9zM640.9 119.63l3.45 6.4h-6.9zM641.18 119.27l3.45 6.4h-6.9zM641.46 118.9l3.45 6.4h-6.9zM641.75 118.54l3.45 6.4h-6.9zM642.03 118.19l3.45 6.4h-6.9zM642.31 117.84l3.45 6.4h-6.9zM642.59 117.5l3.45 6.4h-6.9zM642.87 117.18l3.45 6.4h-6.9zM643.15 116.86l3.45 6.4h-6.9zM643.44 116.56l3.45 6.4h-6.9zM643.72 116.27l3.45 6.4h-6.9zM644 115.99l3.45 6.4h-6.9zM644.28 115.74l3.45 6.4h-6.9zM644.56 115.5l3.45 6.4h-6.9zM644.84 115.28l3.45 6.4h-6.9zM645.13 115.07l3.45 6.4h-6.9zM645.41 114.89l3.45 6.4h-6.9zM645.69 114.73l3.45 6.4h-6.9zM645.97 114.6l3.45 6.4h-6.9z" fill="#0000f0"/>
<!-- main frame -->
<path d="M110.8 0.9H674V454.2H110.8Z" fill="none" stroke="#000" stroke-width="2"/>
<path d="M139 453.5v-8.5M139 1v8.5M195.33 453.5v-4.5M195.33 1v4.5M251.66 453.5v-8.5M251.66 1v8.5M307.99 453.5v-4.5M307.99 1v4.5M364.32 453.5v-8.5M364.32 1v8.5M420.65 453.5v-4.5M420.65 1v4.5M476.98 453.5v-8.5M476.98 1v8.5M533.31 453.5v-4.5M533.31 1v4.5M589.64 453.5v-8.5M589.64 1v8.5M645.97 453.5v-4.5M645.97 1v4.5M111 431.6h9M674 431.6h-9M111 374.85h4.5M674 374.85h-4.5M111 318.1h9M674 318.1h-9M111 261.35h4.5M674 261.35h-4.5M111 204.6h9M674 204.6h-9M111 147.85h4.5M674 147.85h-4.5M111 91.1h9M674 91.1h-9M111 34.35h4.5M674 34.35h-4.5" stroke="#000" stroke-width="2" fill="none"/>
<g font-size="28.2" fill="#000"><text x="101.3" y="439.9" text-anchor="end">0.03</text><text x="101.3" y="326.4" text-anchor="end">0.04</text><text x="101.3" y="212.9" text-anchor="end">0.05</text><text x="101.3" y="99.4" text-anchor="end">0.06</text><text x="139" y="486" text-anchor="middle">0</text><text x="251.66" y="486" text-anchor="middle">2</text><text x="364.32" y="486" text-anchor="middle">4</text><text x="476.98" y="486" text-anchor="middle">6</text><text x="589.64" y="486" text-anchor="middle">8</text></g>
<text x="392.7" y="537.6" font-size="35.5" text-anchor="middle">B (T)</text>
<text transform="translate(25.7 250.4) rotate(-90)" font-size="35.2" text-anchor="middle">R (Ω)</text>
<text x="541.2" y="56.2" font-size="35.7">T = 2K</text>
<!-- main legend -->
<rect x="427.6" y="368.6" width="198.4" height="50.5" fill="#fff" stroke="#555" stroke-width="1.4"/>
<circle cx="452.2" cy="382.2" r="3.1" fill="#f00"/>
<path d="M452.2 401.6l3.4 6h-6.8z" fill="#0000f0"/>
<text x="479.5" y="388.9" font-size="19.5">New cleave</text>
<text x="479.5" y="411.9" font-size="19.5">Exposure 2 days</text>
<!-- inset -->
<rect x="179.7" y="11.7" width="232.8" height="187.3" fill="#fff"/>
<svg x="179.7" y="11.7" width="232.8" height="187.3" viewBox="179.7 11.7 232.8 187.3" overflow="hidden">
<polyline points="179.7,105.15 180.2,106.65 180.7,108.22 181.2,109.83 181.7,111.43 182.2,112.97 182.7,114.39 183.2,115.67 183.7,116.76 184.2,117.63 184.7,118.25 185.2,118.61 185.7,118.69 186.2,118.49 186.7,118.02 187.2,117.27 187.7,116.28 188.2,115.07 188.7,113.67 189.2,112.13 189.7,110.48 190.2,108.77 190.7,107.04 191.2,105.35 191.7,103.74 192.2,102.25 192.7,100.92 193.2,99.8 193.7,98.9 194.2,98.26 194.7,97.89 195.2,97.81 195.7,98.01 196.2,98.52 196.7,99.3 197.2,100.35 197.7,101.63 198.2,103.13 198.7,104.8 199.2,106.6 199.7,108.5 200.2,110.45 200.7,112.41 201.2,114.32 201.7,116.15 202.2,117.85 202.7,119.38 203.2,120.71 203.7,121.81 204.2,122.65 204.7,123.21 205.2,123.48 205.7,123.43 206.2,122.98 206.7,122.14 207.2,120.94 207.7,119.39 208.2,117.56 208.7,115.47 209.2,113.2 209.7,110.81 210.2,108.35 210.7,105.9 211.2,103.53 211.7,101.29 212.2,99.26 212.7,97.47 213.2,95.99 213.7,94.86 214.2,94.1 214.7,93.73 215.2,93.75 215.7,94.04 216.2,94.58 216.7,95.37 217.2,96.4 217.7,97.64 218.2,99.08 218.7,100.7 219.2,102.45 219.7,104.33 220.2,106.28 220.7,108.29 221.2,110.31 221.7,112.32 222.2,114.27 222.7,116.15 223.2,117.9 223.7,119.52 224.2,120.96 224.7,122.2 225.2,123.23 225.7,124.02 226.2,124.56 226.7,124.85 227.2,124.87 227.7,124.53 228.2,123.81 228.7,122.74 229.2,121.34 229.7,119.65 230.2,117.69 230.7,115.53 231.2,113.21 231.7,110.78 232.2,108.3 232.7,105.84 233.2,103.45 233.7,101.18 234.2,99.1 234.7,97.24 235.2,95.66 235.7,94.39 236.2,93.46 236.7,92.89 237.2,92.7 237.7,92.88 238.2,93.41 238.7,94.29 239.2,95.5 239.7,97.02 240.2,98.81 240.7,100.85 241.2,103.09 241.7,105.5 242.2,108.03 242.7,110.64 243.2,113.26 243.7,115.87 244.2,118.4 244.7,120.81 245.2,123.05 245.7,125.09 246.2,126.88 246.7,128.4 247.2,129.61 247.7,130.49 248.2,131.02 248.7,131.2 249.2,131.01 249.7,130.44 250.2,129.5 250.7,128.2 251.2,126.58 251.7,124.65 252.2,122.46 252.7,120.03 253.2,117.42 253.7,114.66 254.2,111.81 254.7,108.91 255.2,106.02 255.7,103.18 256.2,100.45 256.7,97.87 257.2,95.48 257.7,93.34 258.2,91.47 258.7,89.91 259.2,88.69 259.7,87.82 260.2,87.32 260.7,87.21 261.2,87.52 261.7,88.28 262.2,89.46 262.7,91.05 263.2,93.02 263.7,95.32 264.2,97.92 264.7,100.77 265.2,103.82 265.7,107 266.2,110.26 266.7,113.55 267.2,116.78 267.7,119.92 268.2,122.89 268.7,125.65 269.2,128.14 269.7,130.31 270.2,132.13 270.7,133.56 271.2,134.58 271.7,135.16 272.2,135.29 272.7,135.01 273.2,134.34 273.7,133.28 274.2,131.85 274.7,130.08 275.2,127.98 275.7,125.6 276.2,122.96 276.7,120.12 277.2,117.11 277.7,113.97 278.2,110.77 278.7,107.53 279.2,104.33 279.7,101.19 280.2,98.18 280.7,95.34 281.2,92.7 281.7,90.32 282.2,88.22 282.7,86.45 283.2,85.02 283.7,83.96 284.2,83.29 284.7,83.01 285.2,83.13 285.7,83.65 286.2,84.56 286.7,85.84 287.2,87.49 287.7,89.48 288.2,91.78 288.7,94.36 289.2,97.18 289.7,100.21 290.2,103.4 290.7,106.71 291.2,110.1 291.7,113.52 292.2,116.91 292.7,120.24 293.2,123.46 293.7,126.53 294.2,129.39 294.7,132.02 295.2,134.38 295.7,136.43 296.2,138.15 296.7,139.52 297.2,140.5 297.7,141.1 298.2,141.3 298.7,141.07 299.2,140.37 299.7,139.22 300.2,137.63 300.7,135.63 301.2,133.25 301.7,130.52 302.2,127.48 302.7,124.18 303.2,120.66 303.7,116.98 304.2,113.2 304.7,109.37 305.2,105.54 305.7,101.77 306.2,98.12 306.7,94.65 307.2,91.39 307.7,88.41 308.2,85.75 308.7,83.44 309.2,81.52 309.7,80.02 310.2,78.95 310.7,78.35 311.2,78.21 311.7,78.52 312.2,79.29 312.7,80.49 313.2,82.11 313.7,84.14 314.2,86.54 314.7,89.29 315.2,92.36 315.7,95.7 316.2,99.28 316.7,103.04 317.2,106.95 317.7,110.96 318.2,115.01 318.7,119.05 319.2,123.04 319.7,126.92 320.2,130.65 320.7,134.19 321.2,137.48 321.7,140.48 322.2,143.17 322.7,145.5 323.2,147.45 323.7,148.99 324.2,150.1 324.7,150.77 325.2,151 325.7,150.78 326.2,150.12 326.7,149.02 327.2,147.51 327.7,145.59 328.2,143.29 328.7,140.63 329.2,137.65 329.7,134.37 330.2,130.84 330.7,127.09 331.2,123.17 331.7,119.12 332.2,114.99 332.7,110.81 333.2,106.65 333.7,102.55 334.2,98.54 334.7,94.68 335.2,91.02 335.7,87.58 336.2,84.42 336.7,81.57 337.2,79.05 337.7,76.9 338.2,75.14 338.7,73.79 339.2,72.87 339.7,72.38 340.2,72.34 340.7,72.73 341.2,73.57 341.7,74.83 342.2,76.51 342.7,78.58 343.2,81.03 343.7,83.83 344.2,86.94 344.7,90.34 345.2,94 345.7,97.86 346.2,101.89 346.7,106.04 347.2,110.28 347.7,114.56 348.2,118.82 348.7,123.03 349.2,127.14 349.7,131.11 350.2,134.89 350.7,138.45 351.2,141.74 351.7,144.73 352.2,147.39 352.7,149.7 353.2,151.61 353.7,153.13 354.2,154.22 354.7,154.88 355.2,155.1 355.7,154.87 356.2,154.16 356.7,153 357.2,151.39 357.7,149.35 358.2,146.89 358.7,144.05 359.2,140.85 359.7,137.33 360.2,133.53 360.7,129.47 361.2,125.21 361.7,120.78 362.2,116.24 362.7,111.62 363.2,106.98 363.7,102.36 364.2,97.82 364.7,93.39 365.2,89.13 365.7,85.07 366.2,81.27 366.7,77.75 367.2,74.55 367.7,71.71 368.2,69.25 368.7,67.21 369.2,65.6 369.7,64.44 370.2,63.73 370.7,63.5 371.2,63.74 371.7,64.46 372.2,65.65 372.7,67.3 373.2,69.39 373.7,71.91 374.2,74.83 374.7,78.12 375.2,81.75 375.7,85.7 376.2,89.91 376.7,94.36 377.2,99 377.7,103.78 378.2,108.67 378.7,113.61 379.2,118.56 379.7,123.47 380.2,128.3 380.7,133.01 381.2,137.53 381.7,141.85 382.2,145.9 382.7,149.67 383.2,153.1 383.7,156.17 384.2,158.85 384.7,161.12 385.2,162.95 385.7,164.32 386.2,165.23 386.7,165.66 387.2,165.61 387.7,165.07 388.2,164.05 388.7,162.55 389.2,160.59 389.7,158.18 390.2,155.35 390.7,152.12 391.2,148.53 391.7,144.6 392.2,140.37 392.7,135.88 393.2,131.16 393.7,126.27 394.2,121.25 394.7,116.14 395.2,110.98 395.7,105.83 396.2,100.74 396.7,95.74 397.2,90.88 397.7,86.21 398.2,81.76 398.7,77.59 399.2,73.73 399.7,70.2 400.2,67.05 400.7,64.31 401.2,61.99 401.7,60.11 402.2,58.71 402.7,57.78 403.2,57.34 403.7,57.37 404.2,57.79 404.7,58.58 405.2,59.75 405.7,61.28 406.2,63.17 406.7,65.4 407.2,67.95 407.7,70.82 408.2,73.97 408.7,77.39 409.2,81.06 409.7,84.94 410.2,89.02 410.7,93.27 411.2,97.65 411.7,102.15 412.2,106.72" fill="none" stroke="#e8141c" stroke-width="2.5" stroke-linejoin="round"/>
<polyline points="179.7,90.77 180.2,91.86 180.7,93.74 181.2,96.33 181.7,99.52 182.2,103.19 182.7,107.18 183.2,111.32 183.7,115.44 184.2,119.37 184.7,122.96 185.2,126.04 185.7,128.5 186.2,130.22 186.7,131.15 187.2,131.26 187.7,130.79 188.2,129.82 188.7,128.36 189.2,126.45 189.7,124.14 190.2,121.47 190.7,118.52 191.2,115.36 191.7,112.05 192.2,108.67 192.7,105.32 193.2,102.05 193.7,98.97 194.2,96.12 194.7,93.59 195.2,91.43 195.7,89.7 196.2,88.43 196.7,87.66 197.2,87.4 197.7,87.78 198.2,88.9 198.7,90.73 199.2,93.21 199.7,96.27 200.2,99.79 200.7,103.68 201.2,107.81 201.7,112.05 202.2,116.26 202.7,120.31 203.2,124.07 203.7,127.42 204.2,130.25 204.7,132.48 205.2,134.04 205.7,134.86 206.2,134.95 206.7,134.43 207.2,133.35 207.7,131.72 208.2,129.59 208.7,126.99 209.2,123.98 209.7,120.63 210.2,117 210.7,113.18 211.2,109.24 211.7,105.27 212.2,101.34 212.7,97.55 213.2,93.98 213.7,90.69 214.2,87.76 214.7,85.25 215.2,83.21 215.7,81.69 216.2,80.72 216.7,80.31 217.2,80.51 217.7,81.35 218.2,82.82 218.7,84.89 219.2,87.5 219.7,90.62 220.2,94.16 220.7,98.06 221.2,102.22 221.7,106.56 222.2,110.99 222.7,115.41 223.2,119.73 223.7,123.85 224.2,127.68 224.7,131.14 225.2,134.16 225.7,136.67 226.2,138.62 226.7,139.97 227.2,140.68 227.7,140.74 228.2,140.12 228.7,138.81 229.2,136.85 229.7,134.28 230.2,131.16 230.7,127.56 231.2,123.56 231.7,119.24 232.2,114.71 232.7,110.07 233.2,105.41 233.7,100.85 234.2,96.48 234.7,92.41 235.2,88.72 235.7,85.5 236.2,82.82 236.7,80.73 237.2,79.29 237.7,78.53 238.2,78.45 238.7,79.06 239.2,80.34 239.7,82.25 240.2,84.76 240.7,87.82 241.2,91.37 241.7,95.33 242.2,99.62 242.7,104.16 243.2,108.85 243.7,113.6 244.2,118.31 244.7,122.89 245.2,127.24 245.7,131.27 246.2,134.91 246.7,138.07 247.2,140.7 247.7,142.73 248.2,144.13 248.7,144.88 249.2,144.95 249.7,144.44 250.2,143.38 250.7,141.77 251.2,139.64 251.7,137.04 252.2,133.99 252.7,130.55 253.2,126.78 253.7,122.73 254.2,118.47 254.7,114.07 255.2,109.6 255.7,105.13 256.2,100.73 256.7,96.47 257.2,92.42 257.7,88.65 258.2,85.21 258.7,82.16 259.2,79.56 259.7,77.43 260.2,75.82 260.7,74.76 261.2,74.25 261.7,74.33 262.2,75.11 262.7,76.6 263.2,78.75 263.7,81.54 264.2,84.91 264.7,88.8 265.2,93.14 265.7,97.85 266.2,102.84 266.7,108.02 267.2,113.3 267.7,118.58 268.2,123.76 268.7,128.75 269.2,133.46 269.7,137.8 270.2,141.69 270.7,145.06 271.2,147.85 271.7,150 272.2,151.49 272.7,152.27 273.2,152.35 273.7,151.83 274.2,150.73 274.7,149.07 275.2,146.87 275.7,144.16 276.2,140.99 276.7,137.4 277.2,133.43 277.7,129.15 278.2,124.61 278.7,119.88 279.2,115.03 279.7,110.12 280.2,105.22 280.7,100.41 281.2,95.75 281.7,91.31 282.2,87.14 282.7,83.32 283.2,79.89 283.7,76.9 284.2,74.39 284.7,72.4 285.2,70.96 285.7,70.09 286.2,69.8 286.7,70.15 287.2,71.18 287.7,72.88 288.2,75.23 288.7,78.18 289.2,81.69 289.7,85.71 290.2,90.18 290.7,95.02 291.2,100.16 291.7,105.52 292.2,111.02 292.7,116.57 293.2,122.09 293.7,127.48 294.2,132.67 294.7,137.58 295.2,142.13 295.7,146.24 296.2,149.86 296.7,152.93 297.2,155.4 297.7,157.23 298.2,158.4 298.7,158.89 299.2,158.68 299.7,157.79 300.2,156.24 300.7,154.03 301.2,151.21 301.7,147.81 302.2,143.88 302.7,139.49 303.2,134.68 303.7,129.52 304.2,124.1 304.7,118.48 305.2,112.76 305.7,106.99 306.2,101.28 306.7,95.7 307.2,90.32 307.7,85.23 308.2,80.5 308.7,76.19 309.2,72.37 309.7,69.08 310.2,66.38 310.7,64.3 311.2,62.88 311.7,62.12 312.2,62.05 312.7,62.63 313.2,63.84 313.7,65.68 314.2,68.11 314.7,71.1 315.2,74.63 315.7,78.64 316.2,83.09 316.7,87.92 317.2,93.08 317.7,98.49 318.2,104.09 318.7,109.81 319.2,115.58 319.7,121.33 320.2,126.99 320.7,132.49 321.2,137.75 321.7,142.72 322.2,147.33 322.7,151.52 323.2,155.25 323.7,158.46 324.2,161.12 324.7,163.2 325.2,164.66 325.7,165.49 326.2,165.69 326.7,165.28 327.2,164.29 327.7,162.73 328.2,160.62 328.7,157.98 329.2,154.83 329.7,151.21 330.2,147.17 330.7,142.73 331.2,137.95 331.7,132.88 332.2,127.57 332.7,122.07 333.2,116.45 333.7,110.77 334.2,105.08 334.7,99.44 335.2,93.92 335.7,88.57 336.2,83.44 336.7,78.6 337.2,74.09 337.7,69.96 338.2,66.26 338.7,63.01 339.2,60.27 339.7,58.05 340.2,56.38 340.7,55.27 341.2,54.75 341.7,54.83 342.2,55.59 342.7,57.05 343.2,59.18 343.7,61.95 344.2,65.34 344.7,69.31 345.2,73.81 345.7,78.78 346.2,84.18 346.7,89.93 347.2,95.98 347.7,102.24 348.2,108.66 348.7,115.15 349.2,121.64 349.7,128.06 350.2,134.32 350.7,140.37 351.2,146.12 351.7,151.52 352.2,156.49 352.7,160.99 353.2,164.96 353.7,168.35 354.2,171.12 354.7,173.25 355.2,174.71 355.7,175.47 356.2,175.55 356.7,174.96 357.2,173.74 357.7,171.88 358.2,169.41 358.7,166.35 359.2,162.73 359.7,158.6 360.2,153.99 360.7,148.95 361.2,143.53 361.7,137.78 362.2,131.76 362.7,125.54 363.2,119.18 363.7,112.74 364.2,106.29 364.7,99.89 365.2,93.6 365.7,87.5 366.2,81.64 366.7,76.08 367.2,70.88 367.7,66.09 368.2,61.76 368.7,57.93 369.2,54.65 369.7,51.94 370.2,49.83 370.7,48.35 371.2,47.51 371.7,47.31 372.2,47.77 372.7,48.87 373.2,50.61 373.7,52.97 374.2,55.92 374.7,59.45 375.2,63.51 375.7,68.07 376.2,73.09 376.7,78.52 377.2,84.3 377.7,90.39 378.2,96.72 378.7,103.25 379.2,109.89 379.7,116.6 380.2,123.31 380.7,129.95 381.2,136.48 381.7,142.81 382.2,148.9 382.7,154.68 383.2,160.11 383.7,165.13 384.2,169.69 384.7,173.75 385.2,177.28 385.7,180.23 386.2,182.59 386.7,184.33 387.2,185.43 387.7,185.89 388.2,185.71 388.7,184.93 389.2,183.56 389.7,181.61 390.2,179.09 390.7,176.02 391.2,172.44 391.7,168.36 392.2,163.83 392.7,158.87 393.2,153.53 393.7,147.85 394.2,141.88 394.7,135.66 395.2,129.24 395.7,122.68 396.2,116.03 396.7,109.34 397.2,102.67 397.7,96.07 398.2,89.59 398.7,83.29 399.2,77.21 399.7,71.4 400.2,65.92 400.7,60.81 401.2,56.1 401.7,51.83 402.2,48.05 402.7,44.77 403.2,42.04 403.7,39.85 404.2,38.25 404.7,37.23 405.2,36.81 405.7,36.97 406.2,37.67 406.7,38.91 407.2,40.67 407.7,42.94 408.2,45.71 408.7,48.96 409.2,52.66 409.7,56.79 410.2,61.32 410.7,66.22 411.2,71.45 411.7,76.97 412.2,82.75" fill="none" stroke="#1010d8" stroke-width="2.9" stroke-linejoin="round"/>
</svg>
<rect x="179.7" y="11.7" width="232.8" height="187.3" fill="none" stroke="#505050" stroke-width="1.4"/>
<path d="M226.3 199v-3.5M226.3 11.7v3.5M272.95 199v-2M272.95 11.7v2M319.6 199v-3.5M319.6 11.7v3.5M366.25 199v-2M366.25 11.7v2M179.7 189.5h4M412.5 189.5h-4M179.7 170.8h2M412.5 170.8h-2M179.7 152.1h4M412.5 152.1h-4M179.7 133.4h2M412.5 133.4h-2M179.7 114.7h4M412.5 114.7h-4M179.7 96h2M412.5 96h-2M179.7 77.3h4M412.5 77.3h-4M179.7 58.6h2M412.5 58.6h-2M179.7 39.9h4M412.5 39.9h-4M179.7 21.2h2M412.5 21.2h-2" stroke="#505050" stroke-width="1.1" fill="none"/>
<g font-size="14.7" fill="#000"><text x="176" y="44.2" text-anchor="end">0.006</text><text x="176" y="81.6" text-anchor="end">0.004</text><text x="176" y="119" text-anchor="end">0.002</text><text x="176" y="156.4" text-anchor="end">0.000</text><text x="176" y="193.8" text-anchor="end">-0.002</text></g>
<g font-size="20.5" fill="#000"><text x="226.3" y="218.6" text-anchor="middle">7</text><text x="319.6" y="218.6" text-anchor="middle">8</text><text x="412.9" y="218.6" text-anchor="middle">9</text></g>
<text x="294.2" y="236.8" font-size="19.6" text-anchor="middle">B (T)</text>
<text transform="translate(136.2 152.5) rotate(-90)" font-size="18.6">dR/dB <tspan font-size="16" letter-spacing="1.1">(Ω/B)</tspan></text>
<!-- inset legend -->
<rect x="191.4" y="15" width="135.8" height="36.2" fill="#fff" stroke="#9a9a9a" stroke-width="1"/>
<path d="M193.4 26.4h21" stroke="#e8141c" stroke-width="2.6"/>
<path d="M193.4 43.8h21" stroke="#1010d8" stroke-width="3"/>
<text x="216.5" y="29" font-size="14.2">New cleave</text>
<text x="218" y="46.8" font-size="14.2">Exposure 2 days</text>
</svg>
</body></html>
